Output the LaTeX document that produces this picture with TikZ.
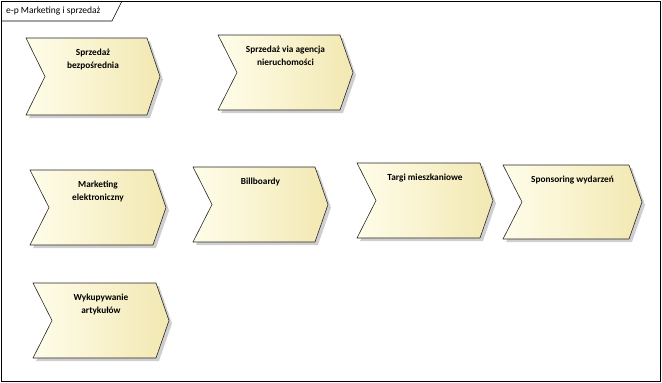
\documentclass[tikz,border=0pt]{standalone}
\usepackage{fontspec}
\setmainfont{Carlito}
\definecolor{steplight}{RGB}{255,253,234}
\definecolor{stepdark}{RGB}{242,232,178}
\definecolor{stepshadow}{RGB}{175,175,175}
\tikzset{
  steplabel/.style={align=center, anchor=north, inner sep=0pt, font=\fontsize{9.3}{13}\selectfont\bfseries},
  stepline/.style={draw=black!85, line width=0.6pt}
}
\begin{document}
\begin{tikzpicture}[x=1pt, y=-1pt]
        \useasboundingbox (0,0) rectangle (662,383);
        % frame with its name tab
        \draw[line width=0.8pt] (1,1) rectangle (660,381);
        \draw[line width=0.6pt] (1,21) -- (112,21) -- (122,1);
        \node[anchor=west, inner sep=0pt, font=\fontsize{9.5}{11}\selectfont] (frame) at (6,11) {e-p Marketing i sprzedaż};

        % chevrons: x/y/width/height/name/label
        \foreach \x/\y/\w/\h/\n/\t in {
            26/38/134/77/sprzedaz/{Sprzedaż\\bezpośrednia},
            218/35/135/75/agencja/{Sprzedaż via agencja\\nieruchomości},
            30/170/136/75/emarketing/{Marketing\\elektroniczny},
            193/167/135/75/billboardy/{Billboardy},
            357/163/136/75/targi/{Targi mieszkaniowe},
            503/165/139/74/sponsoring/{Sponsoring wydarzeń},
            33/283/136/75/artykuly/{Wykupywanie\\artykułów}} {
            \fill[stepshadow, opacity=0.6] (\x+3,\y+3) -- ++(\w-13,0) -- ++(13,\h/2) -- ++(-13,\h/2)
                -- ++(-\w+13,0) -- ++(19,-\h/2) -- cycle;
            \shade[left color=steplight, right color=stepdark] (\x,\y) -- ++(\w-13,0) -- ++(13,\h/2)
                -- ++(-13,\h/2) -- ++(-\w+13,0) -- ++(19,-\h/2) -- cycle;
            \draw[stepline] (\x,\y) -- ++(\w-13,0) -- ++(13,\h/2) -- ++(-13,\h/2)
                -- ++(-\w+13,0) -- ++(19,-\h/2) -- cycle;
            \node[steplabel] (\n) at (\x+\w/2, \y+11) {\t};
        }
    \end{tikzpicture}
\end{document}
